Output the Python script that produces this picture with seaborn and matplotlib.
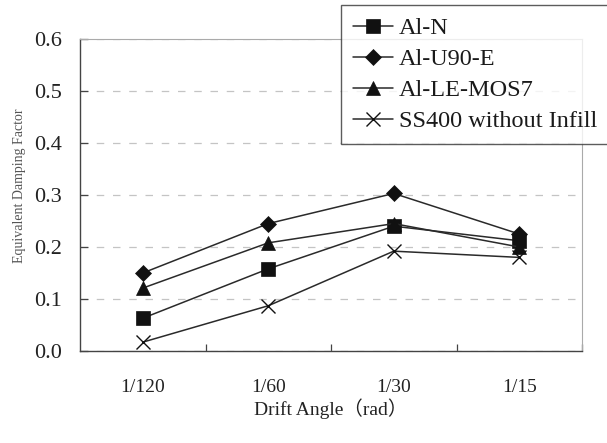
import matplotlib
matplotlib.use("Agg")
import matplotlib.pyplot as plt
from matplotlib.ticker import FixedLocator, NullFormatter, FixedFormatter
import seaborn as sns
import pandas as pd

# ---- data ----
angles = ["1/120", "1/60", "1/30", "1/15"]
series_names = ["Al-N", "Al-U90-E", "Al-LE-MOS7", "SS400 without Infill"]
al_n = [0.063, 0.158, 0.240, 0.212]
al_u90_e = [0.150, 0.245, 0.303, 0.225]
al_le_mos7 = [0.121, 0.208, 0.245, 0.200]
ss400 = [0.017, 0.087, 0.192, 0.180]
y_ticks = [0.0, 0.1, 0.2, 0.3, 0.4, 0.5, 0.6]
y_tick_labels = ["0.0", "0.1", "0.2", "0.3", "0.4", "0.5", "0.6"]

values = [al_n, al_u90_e, al_le_mos7, ss400]
markers = ["s", "D", "^", "x"]
msizes = [9.5, 8, 10, 10]

sns.set_theme(style="white")
plt.rcParams["font.family"] = ["Liberation Serif", "Noto Sans CJK JP", "DejaVu Sans"]

rows = []
for name, vals in zip(series_names, values):
    for a, v in zip(angles, vals):
        rows.append({"angle": a, "value": v, "series": name})
df = pd.DataFrame(rows)
df["angle"] = pd.Categorical(df["angle"], categories=angles, ordered=True)
df["pos"] = df["angle"].cat.codes

fig = plt.figure(figsize=(6.07, 4.43), dpi=100)
ax = fig.add_axes([80 / 607, 1 - 351 / 443, 502 / 607, 312 / 443])

for name, mk, ms in zip(series_names, markers, msizes):
    sub = df[df["series"] == name]
    sns.lineplot(data=sub, x="pos", y="value", ax=ax, color="#2a2a2a",
                 linewidth=1.1, marker=mk, markersize=ms,
                 markerfacecolor="#111111", markeredgecolor="#111111",
                 markeredgewidth=1.0 if mk == "x" else 0.5,
                 label=name, legend=False, errorbar=None)

ax.set_xlim(-0.5, len(angles) - 0.5)
ax.set_ylim(0, 0.6)

# gridlines
ax.yaxis.set_major_locator(FixedLocator(y_ticks))
ax.yaxis.set_major_formatter(FixedFormatter(y_tick_labels))
ax.grid(axis="y", color="#c4c4c4", linestyle=(0, (6, 7)), linewidth=0.9)
ax.grid(axis="x", visible=False)

# x ticks: marks at category boundaries, labels at category centers
bounds = [i + 0.5 for i in range(len(angles))]
ax.xaxis.set_major_locator(FixedLocator(bounds))
ax.xaxis.set_major_formatter(NullFormatter())
ax.xaxis.set_minor_locator(FixedLocator(list(range(len(angles)))))
ax.xaxis.set_minor_formatter(FixedFormatter(angles))
ax.tick_params(axis="x", which="major", direction="in", length=5, width=0.9,
               color="#444444", bottom=True)
ax.tick_params(axis="x", which="minor", length=0, pad=20, labelsize=14,
               labelcolor="#222222")
ax.tick_params(axis="y", which="major", direction="in", length=6, width=0.9,
               color="#444444", left=True, pad=13, labelsize=16,
               labelcolor="#222222")

for side in ["left", "bottom"]:
    ax.spines[side].set_color("#444444")
    ax.spines[side].set_linewidth(1.0)
for side in ["right", "top"]:
    ax.spines[side].set_color("#aaaaaa")
    ax.spines[side].set_linewidth(0.8)

ax.set_xlabel("Drift Angle（rad）", fontsize=14, color="#222222", labelpad=2)
ax.set_ylabel("Equivalent Damping Factor", fontsize=10, color="#555555")
ax.yaxis.set_label_coords(-0.108, 0.53)

handles, labels = ax.get_legend_handles_labels()
leg = fig.legend(handles, labels, loc="upper right",
                 bbox_to_anchor=(1.004, 1 - 5 / 443),
                 fontsize=17.5, frameon=True, fancybox=False, shadow=False,
                 handlelength=1.65, handletextpad=0.25, borderpad=0.5,
                 labelspacing=0.37, borderaxespad=0)
leg.get_frame().set_edgecolor("#333333")
leg.get_frame().set_linewidth(1.0)
for t in leg.get_texts():
    t.set_color("#1a1a1a")

fig.savefig("out.png", dpi=100)
